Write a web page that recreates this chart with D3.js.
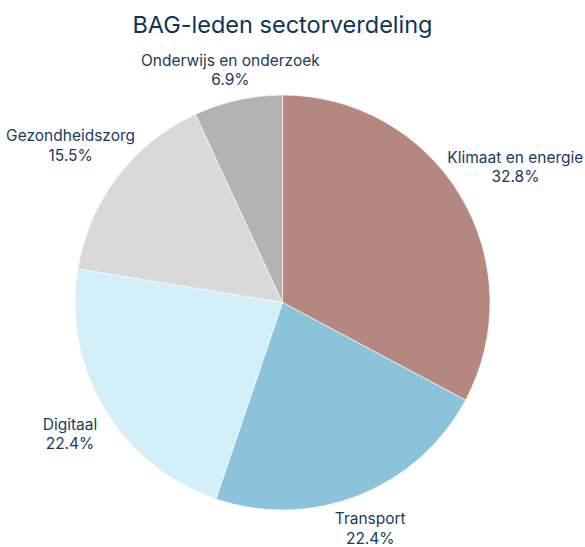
<!DOCTYPE html>
<html>
<head>
<meta charset="utf-8">
<script src="https://cdn.jsdelivr.net/npm/d3@7"></script>
<style>
  html, body { margin: 0; padding: 0; background: #fff; }
  svg { display: block; font-family: Inter, "Noto Sans", sans-serif; }
</style>
</head>
<body>
<svg id="chart" width="585" height="547"></svg>
<script>
const title = "BAG-leden sectorverdeling";
const categories = ["Klimaat en energie", "Transport", "Digitaal", "Gezondheidszorg", "Onderwijs en onderzoek"];
const values = [32.8, 22.4, 22.4, 15.5, 6.9];
const colors = ["#b4877f", "#8bc3da", "#d5eff8", "#d9d9d9", "#b3b3b3"];

const W = 585, H = 547;
const cx = 282.5, cy = 302.5, r = 207.5;
const fontSize = 15.5, lineH = 19.5;

const svg = d3.select("#chart");

svg.append("text")
  .attr("x", cx)
  .attr("y", 33)
  .attr("text-anchor", "middle")
  .attr("font-size", 23.5)
  .attr("fill", "#0e3456")
  .text(title);

const data = categories.map((c, i) => ({ name: c, value: values[i], color: colors[i] }));
const pie = d3.pie().value(d => d.value).sort(null);
const arcs = pie(data);
const arc = d3.arc().innerRadius(0).outerRadius(r);

const g = svg.append("g").attr("transform", `translate(${cx},${cy})`);

g.selectAll("path")
  .data(arcs)
  .enter().append("path")
  .attr("d", arc)
  .attr("fill", d => d.data.color)
  .attr("stroke", "#ffffff")
  .attr("stroke-width", 0.6);

const fmt = d3.format(".1f");

g.selectAll("text.lbl")
  .data(arcs)
  .enter().append("text")
  .attr("class", "lbl")
  .attr("text-anchor", "middle")
  .attr("font-size", fontSize)
  .attr("fill", "#1c3a5b")
  .each(function(d) {
    const t = d3.select(this);
    const s1 = t.append("tspan").attr("x", 0).attr("y", 0).text(d.data.name);
    const s2 = t.append("tspan").attr("x", 0).attr("y", lineH).text(fmt(d.data.value) + "%");
    const w = t.node().getBBox().width;
    const a = (d.startAngle + d.endAngle) / 2;
    const s = Math.sin(a), c = Math.cos(a);
    const dist = r + 27.5 + 0.34 * w * Math.abs(s) - 6 * Math.abs(c);
    t.attr("transform", `translate(${dist * s},${-dist * c})`);
  });
</script>
</body>
</html>
